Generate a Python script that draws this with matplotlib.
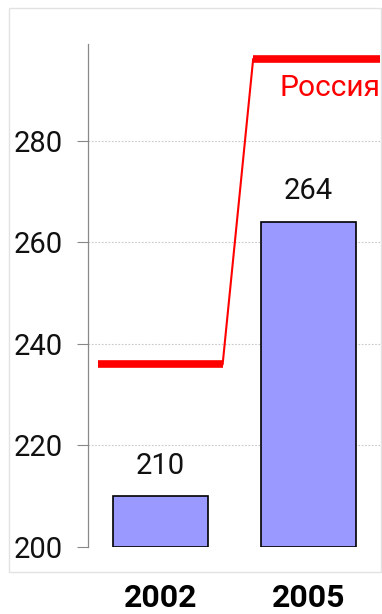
import matplotlib
matplotlib.use("Agg")
import matplotlib.pyplot as plt
from matplotlib.patches import Rectangle

plt.rcParams['font.family'] = ['Roboto', 'DejaVu Sans']

# data
years = ["2002", "2005"]
values = [210, 264]
russia = [236, 296]
russia_label = "Россия"
yticks = [200, 220, 240, 260, 280]

fig = plt.figure(figsize=(3.82, 6.14), dpi=100)

# light frame around the plot region
fig.patches.append(Rectangle((9 / 382, 42 / 614), 372 / 382, 564 / 614,
                             transform=fig.transFigure, fill=False,
                             edgecolor="#e2e2e2", linewidth=1.0, zorder=0))

ax = fig.add_axes([88 / 382, 67 / 614, 293 / 382, 503 / 614])
ax.set_facecolor("none")

x = list(range(len(years)))
ax.bar(x, [v - 200 for v in values], bottom=200, width=0.64,
       color="#9999ff", edgecolor="black", linewidth=1.2, zorder=3)

for xi, v in zip(x, values):
    ax.annotate(str(v), (xi, v), xytext=(0, 22), textcoords="offset points",
                ha="center", va="center", fontsize=21, color="#111111")

# reference line for Russia: thick levels joined by a thin riser
half = 0.42
ax.plot([x[0] - half, x[0] + half], [russia[0], russia[0]],
        color="#ff0000", linewidth=5.5, solid_capstyle="butt", zorder=4)
ax.plot([x[1] - 0.374, x[1] + 0.48], [russia[1], russia[1]],
        color="#ff0000", linewidth=5.5, solid_capstyle="butt", zorder=4)
ax.plot([x[0] + half, x[1] - 0.374], [russia[0], russia[1]],
        color="#ff0000", linewidth=1.5, zorder=4)
ax.annotate(russia_label, (x[1] + 0.48, russia[1]), xytext=(1, -21),
            textcoords="offset points", ha="right", va="center",
            fontsize=21.5, color="#ff0000")

ax.set_xlim(-0.49, 1.49)
ax.set_ylim(200, 299)

ax.set_yticks(yticks)
ax.set_yticklabels([str(t) for t in yticks])
ax.tick_params(axis="y", length=8, width=0.8, color="#888888", pad=10,
               labelsize=21, labelcolor="#111111")
ax.set_xticks(x)
ax.set_xticklabels(years, fontweight="bold", fontsize=23)
ax.tick_params(axis="x", length=0, pad=26, labelcolor="black")

ax.yaxis.grid(True, linestyle=(0, (1.5, 1.5)), color="#c8c8c8", linewidth=0.8, zorder=1)
ax.get_ygridlines()[0].set_visible(False)
ax.set_axisbelow(True)

for side in ("top", "right", "bottom"):
    ax.spines[side].set_visible(False)
ax.spines["left"].set_color("#888888")
ax.spines["left"].set_linewidth(0.9)

fig.savefig("out.png", dpi=100)
